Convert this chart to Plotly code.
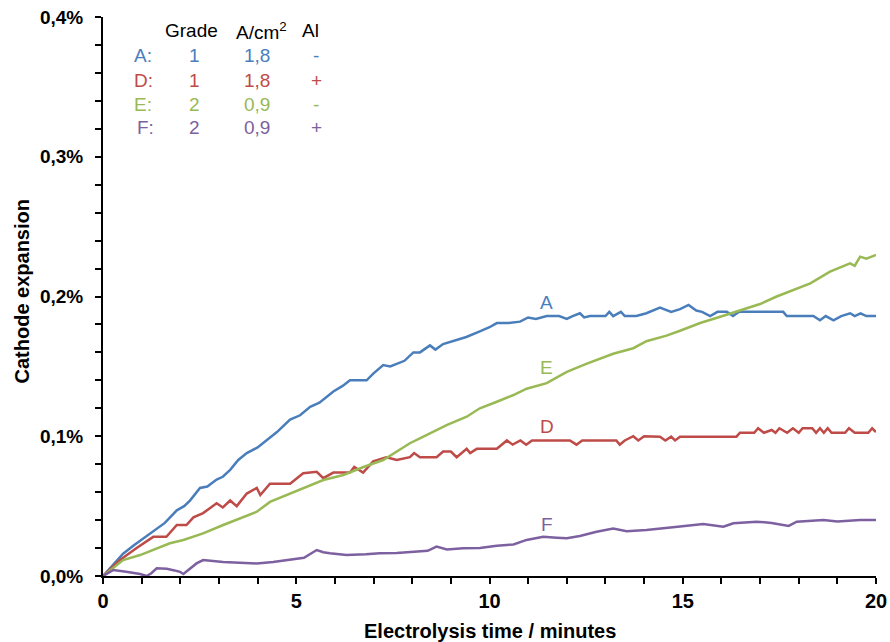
import plotly.graph_objects as go

# ---------------- data ----------------
A_t = [0, 0.25, 0.52, 0.8, 1.04, 1.2, 1.39, 1.6, 1.91, 2.1, 2.25, 2.51, 2.7, 2.94, 3.1, 3.29, 3.5, 3.72,
       4.0, 4.23, 4.5, 4.84, 5.1, 5.36, 5.6, 5.96, 6.2, 6.39, 6.82, 7.0, 7.25, 7.43, 7.6, 7.8, 8.03, 8.2,
       8.46, 8.6, 8.8, 9.15, 9.4, 9.75, 10.0, 10.19, 10.5, 10.79, 11.0, 11.2, 11.48, 11.8, 12.0, 12.15,
       12.34, 12.45, 12.6, 13.0, 13.1, 13.2, 13.4, 13.5, 13.8, 14.06, 14.41, 14.7, 14.93, 15.15, 15.35,
       15.5, 15.71, 15.9, 16.14, 16.3, 16.45, 17.6, 17.69, 18.38, 18.55, 18.7, 18.9, 19.1, 19.33, 19.45,
       19.6, 19.75, 20]
A_v = [0, 0.008, 0.016, 0.022, 0.027, 0.030, 0.034, 0.038, 0.047, 0.050, 0.054, 0.063, 0.064, 0.069,
       0.071, 0.076, 0.083, 0.088, 0.092, 0.097, 0.103, 0.112, 0.115, 0.121, 0.124, 0.132, 0.136, 0.140,
       0.140, 0.145, 0.151, 0.150, 0.152, 0.154, 0.160, 0.160, 0.165, 0.162, 0.166, 0.169, 0.171, 0.175,
       0.178, 0.181, 0.181, 0.182, 0.185, 0.184, 0.186, 0.186, 0.184, 0.186, 0.188, 0.185, 0.186, 0.186,
       0.189, 0.186, 0.189, 0.186, 0.186, 0.188, 0.192, 0.189, 0.191, 0.194, 0.190, 0.189, 0.186, 0.189,
       0.189, 0.186, 0.189, 0.189, 0.186, 0.186, 0.183, 0.186, 0.183, 0.186, 0.188, 0.186, 0.188, 0.186,
       0.186]

D_t = [0, 0.44, 0.87, 1.30, 1.64, 1.91, 2.16, 2.34, 2.59, 2.94, 3.1, 3.29, 3.46, 3.72, 3.98, 4.07, 4.32,
       4.84, 5.18, 5.53, 5.7, 5.96, 6.39, 6.5, 6.73, 6.99, 7.33, 7.6, 7.94, 8.05, 8.2, 8.63, 8.80, 9.0,
       9.15, 9.41, 9.5, 9.67, 10.19, 10.36, 10.45, 10.6, 10.8, 10.95, 11.1, 12.08, 12.25, 12.4, 13.28,
       13.37, 13.5, 13.72, 13.85, 14.0, 14.3, 14.41, 14.55, 14.7, 14.8, 14.93, 16.39, 16.48, 16.85,
       16.95, 17.1, 17.3, 17.4, 17.5, 17.7, 17.85, 18.0, 18.1, 18.35, 18.45, 18.55, 18.65, 18.75, 18.85,
       19.2, 19.3, 19.45, 19.8, 19.9, 20]
D_v = [0, 0.0114, 0.020, 0.028, 0.028, 0.0365, 0.0365, 0.042, 0.045, 0.052, 0.049, 0.054, 0.050,
       0.059, 0.063, 0.058, 0.066, 0.066, 0.0735, 0.0746, 0.070, 0.074, 0.074, 0.078, 0.074, 0.082,
       0.085, 0.083, 0.085, 0.088, 0.085, 0.085, 0.089, 0.089, 0.085, 0.091, 0.088, 0.091, 0.091, 0.095,
       0.097, 0.094, 0.097, 0.094, 0.097, 0.097, 0.094, 0.097, 0.097, 0.094, 0.097, 0.100, 0.097, 0.100,
       0.100, 0.0997, 0.097, 0.0997, 0.097, 0.0997, 0.0997, 0.1025, 0.1025, 0.1057, 0.1025, 0.1045,
       0.1025, 0.1057, 0.1025, 0.1057, 0.1025, 0.1057, 0.1057, 0.1025, 0.1057, 0.1025, 0.1057, 0.1025,
       0.1025, 0.1057, 0.1025, 0.1025, 0.1057, 0.103]

E_t = [0, 0.52, 0.96, 1.3, 1.73, 2.08, 2.59, 3.11, 3.63, 3.98, 4.32, 4.84, 5.27, 5.7, 6.22, 6.74, 7.25,
       7.6, 7.94, 8.29, 8.89, 9.41, 9.75, 10.19, 10.62, 10.96, 11.48, 12.0, 12.52, 13.2, 13.72, 14.06,
       14.58, 14.93, 15.45, 15.97, 16.57, 17.0, 17.43, 17.86, 18.3, 18.81, 19.33, 19.45, 19.59, 19.75, 20]
E_v = [0, 0.0114, 0.015, 0.0186, 0.0234, 0.0258, 0.0305, 0.0365, 0.0424, 0.046, 0.053, 0.059, 0.064,
       0.0687, 0.0723, 0.078, 0.083, 0.089, 0.095, 0.0997, 0.108, 0.114, 0.120, 0.1247, 0.1295, 0.134,
       0.138, 0.146, 0.152, 0.159, 0.163, 0.168, 0.172, 0.1755, 0.181, 0.1855, 0.191, 0.1946, 0.200,
       0.2047, 0.2094, 0.2178, 0.2237, 0.222, 0.2285, 0.227, 0.2297]

F_t = [0, 0.27, 0.6, 0.96, 1.13, 1.25, 1.39, 1.65, 1.85, 1.99, 2.08, 2.25, 2.42, 2.59, 3.11, 3.54, 3.98,
       4.4, 4.84, 5.2, 5.53, 5.7, 5.87, 6.30, 6.8, 7.16, 7.6, 8.03, 8.4, 8.63, 8.9, 9.32, 9.75, 10.19,
       10.62, 10.96, 11.39, 11.74, 12.0, 12.34, 12.77, 13.2, 13.55, 14.06, 14.49, 14.93, 15.53, 16.05,
       16.31, 16.91, 17.3, 17.74, 17.95, 18.64, 19.0, 19.59, 20]
F_v = [0, 0.0043, 0.003, 0.0014, 0, 0.002, 0.0055, 0.0052, 0.004, 0.003, 0.0014, 0.005, 0.009, 0.0114,
       0.010, 0.0095, 0.009, 0.010, 0.0114, 0.013, 0.0186, 0.017, 0.0163, 0.015, 0.0155, 0.0163, 0.0165,
       0.0174, 0.018, 0.021, 0.019, 0.0198, 0.020, 0.0217, 0.0226, 0.0258, 0.0281, 0.0274, 0.027, 0.0286,
       0.0317, 0.034, 0.032, 0.033, 0.034, 0.0355, 0.0372, 0.0353, 0.0377, 0.0389, 0.038, 0.0358, 0.0389,
       0.040, 0.039, 0.040, 0.040]

series_names = ["A", "D", "E", "F"]
series_colors = ["#4A7EBB", "#BE4B48", "#98B954", "#7D60A0"]
grades = ["1", "1", "2", "2"]
currents = ["1,8", "1,8", "0,9", "0,9"]
aluminium = ["-", "+", "-", "+"]

x_title = "Electrolysis time / minutes"
y_title = "Cathode expansion"

# ---------------- figure ----------------
fig = go.Figure()
for name, t, v, c in zip(series_names, [A_t, D_t, E_t, F_t], [A_v, D_v, E_v, F_v], series_colors):
    fig.add_trace(go.Scatter(x=t, y=v, mode="lines", name=name,
                             line=dict(color=c, width=2.5), showlegend=False))

font_fam = "Liberation Sans, Arial, sans-serif"

# curve labels
label_pos = {"A": (11.48, 0.196), "E": (11.48, 0.149), "D": (11.5, 0.107), "F": (11.48, 0.0365)}
for name, c in zip(series_names, series_colors):
    x, y = label_pos[name]
    fig.add_annotation(x=x, y=y, text=name, showarrow=False,
                       font=dict(family=font_fam, size=19, color=c))

# legend table
header_y = 0.390
row_y = [0.3721, 0.3549, 0.3377, 0.3206]
for txt, x in [("Grade", 2.30), ("A/cm<sup>2</sup>", 4.09), ("Al", 5.38)]:
    fig.add_annotation(x=x, y=header_y, text=txt, showarrow=False,
                       font=dict(family=font_fam, size=19, color="black"))
for i, (name, c) in enumerate(zip(series_names, series_colors)):
    y = row_y[i]
    lx = 1.035 if name != "F" else 1.087
    for txt, x in [(name + ":", lx), (grades[i], 2.38), (currents[i], 3.98), (aluminium[i], 5.52)]:
        fig.add_annotation(x=x, y=y, text=txt, showarrow=False,
                           font=dict(family=font_fam, size=19, color=c))

# axis titles
fig.add_annotation(xref="paper", yref="paper", x=0.5, y=0, yshift=-55, text="<b>" + x_title + "</b>",
                   showarrow=False, font=dict(family=font_fam, size=20, color="black"),
                   xanchor="center", yanchor="middle")
fig.add_annotation(xref="paper", yref="paper", x=0, y=0.5, xshift=-82, yshift=5, textangle=-90,
                   text="<b>" + y_title + "</b>", showarrow=False,
                   font=dict(family=font_fam, size=20, color="black"),
                   xanchor="center", yanchor="middle")

fig.update_layout(
    width=890, height=642,
    margin=dict(l=103, r=14, t=17, b=66, autoexpand=False),
    paper_bgcolor="white", plot_bgcolor="white",
    separators=",.",
    font=dict(family=font_fam, color="black"),
)
fig.update_xaxes(range=[0, 20], dtick=5, tick0=0, showgrid=False, zeroline=False, automargin=False,
                 showline=True, linecolor="black", linewidth=2,
                 ticks="outside", ticklen=6, tickwidth=1.5, tickcolor="black",
                 minor=dict(dtick=1, ticks="outside", ticklen=6, tickwidth=1.5, tickcolor="black"),
                 tickfont=dict(family=font_fam, size=20, color="black", weight="bold"))
fig.update_yaxes(range=[0, 0.4], dtick=0.1, tick0=0, showgrid=False, zeroline=False, automargin=False,
                 showline=True, linecolor="black", linewidth=2,
                 ticks="outside", ticklen=6, tickwidth=1.5, tickcolor="black",
                 minor=dict(dtick=0.02, ticks="outside", ticklen=6, tickwidth=1.5, tickcolor="black"),
                 tickformat=".1f", ticksuffix="%", ticklabelstandoff=8,
                 tickfont=dict(family=font_fam, size=19, color="black", weight="bold"))

fig.write_html("out.html")
